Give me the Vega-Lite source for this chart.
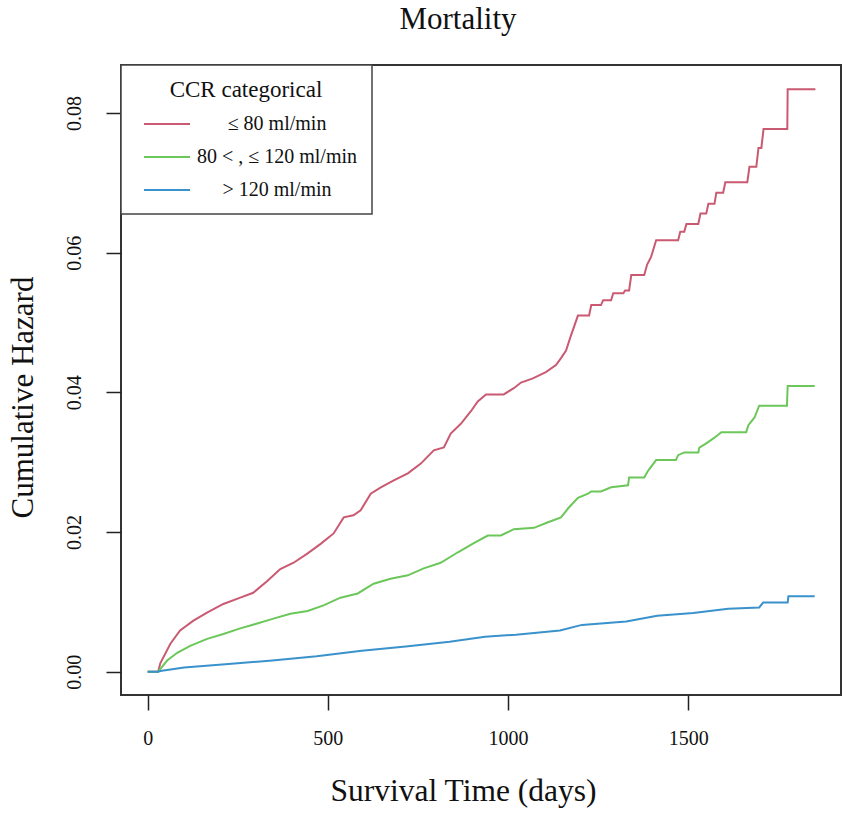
{
  "$schema": "https://vega.github.io/schema/vega-lite/v6.json",
  "width": 720,
  "height": 630,
  "autosize": {"type": "none"},
  "padding": {"left": 121, "top": 65, "right": 10, "bottom": 124},
  "background": "white",
  "title": {"text": "Mortality", "fontSize": 31, "font": "Liberation Serif", "fontWeight": "normal", "color": "#111", "anchor": "middle", "dx": -23, "offset": 4, "baseline": "alphabetic"},
  "config": {"view": {"stroke": "#333", "strokeWidth": 2}, "font": "Liberation Serif"},
  "data": {"values": [
    {"group": "≤ 80 ml/min", "day": 0, "hz": 0},
    {"group": "≤ 80 ml/min", "day": 29, "hz": 0},
    {"group": "≤ 80 ml/min", "day": 35, "hz": 0.0012},
    {"group": "≤ 80 ml/min", "day": 63, "hz": 0.0040},
    {"group": "≤ 80 ml/min", "day": 90, "hz": 0.0059},
    {"group": "≤ 80 ml/min", "day": 127, "hz": 0.0073},
    {"group": "≤ 80 ml/min", "day": 166, "hz": 0.0085},
    {"group": "≤ 80 ml/min", "day": 210, "hz": 0.0097},
    {"group": "≤ 80 ml/min", "day": 257, "hz": 0.0106},
    {"group": "≤ 80 ml/min", "day": 293, "hz": 0.0113},
    {"group": "≤ 80 ml/min", "day": 332, "hz": 0.0130},
    {"group": "≤ 80 ml/min", "day": 368, "hz": 0.0147},
    {"group": "≤ 80 ml/min", "day": 405, "hz": 0.0156},
    {"group": "≤ 80 ml/min", "day": 443, "hz": 0.0169},
    {"group": "≤ 80 ml/min", "day": 480, "hz": 0.0183},
    {"group": "≤ 80 ml/min", "day": 516, "hz": 0.0198},
    {"group": "≤ 80 ml/min", "day": 544, "hz": 0.0221},
    {"group": "≤ 80 ml/min", "day": 571, "hz": 0.0224},
    {"group": "≤ 80 ml/min", "day": 591, "hz": 0.0231},
    {"group": "≤ 80 ml/min", "day": 619, "hz": 0.0255},
    {"group": "≤ 80 ml/min", "day": 647, "hz": 0.0264},
    {"group": "≤ 80 ml/min", "day": 683, "hz": 0.0274},
    {"group": "≤ 80 ml/min", "day": 722, "hz": 0.0284},
    {"group": "≤ 80 ml/min", "day": 758, "hz": 0.0298},
    {"group": "≤ 80 ml/min", "day": 794, "hz": 0.0317},
    {"group": "≤ 80 ml/min", "day": 822, "hz": 0.0321},
    {"group": "≤ 80 ml/min", "day": 841, "hz": 0.0341},
    {"group": "≤ 80 ml/min", "day": 869, "hz": 0.0355},
    {"group": "≤ 80 ml/min", "day": 897, "hz": 0.0373},
    {"group": "≤ 80 ml/min", "day": 916, "hz": 0.0387},
    {"group": "≤ 80 ml/min", "day": 939, "hz": 0.0397},
    {"group": "≤ 80 ml/min", "day": 988, "hz": 0.0397},
    {"group": "≤ 80 ml/min", "day": 1016, "hz": 0.0406},
    {"group": "≤ 80 ml/min", "day": 1036, "hz": 0.0414},
    {"group": "≤ 80 ml/min", "day": 1069, "hz": 0.0420},
    {"group": "≤ 80 ml/min", "day": 1105, "hz": 0.0429},
    {"group": "≤ 80 ml/min", "day": 1133, "hz": 0.0439},
    {"group": "≤ 80 ml/min", "day": 1147, "hz": 0.0449},
    {"group": "≤ 80 ml/min", "day": 1161, "hz": 0.0460},
    {"group": "≤ 80 ml/min", "day": 1175, "hz": 0.0482},
    {"group": "≤ 80 ml/min", "day": 1194, "hz": 0.0510},
    {"group": "≤ 80 ml/min", "day": 1225, "hz": 0.0510},
    {"group": "≤ 80 ml/min", "day": 1231, "hz": 0.0525},
    {"group": "≤ 80 ml/min", "day": 1258, "hz": 0.0525},
    {"group": "≤ 80 ml/min", "day": 1264, "hz": 0.0532},
    {"group": "≤ 80 ml/min", "day": 1286, "hz": 0.0532},
    {"group": "≤ 80 ml/min", "day": 1292, "hz": 0.0542},
    {"group": "≤ 80 ml/min", "day": 1320, "hz": 0.0542},
    {"group": "≤ 80 ml/min", "day": 1325, "hz": 0.0546},
    {"group": "≤ 80 ml/min", "day": 1336, "hz": 0.0546},
    {"group": "≤ 80 ml/min", "day": 1342, "hz": 0.0568},
    {"group": "≤ 80 ml/min", "day": 1378, "hz": 0.0568},
    {"group": "≤ 80 ml/min", "day": 1386, "hz": 0.0583},
    {"group": "≤ 80 ml/min", "day": 1397, "hz": 0.0594},
    {"group": "≤ 80 ml/min", "day": 1411, "hz": 0.0618},
    {"group": "≤ 80 ml/min", "day": 1472, "hz": 0.0618},
    {"group": "≤ 80 ml/min", "day": 1478, "hz": 0.0630},
    {"group": "≤ 80 ml/min", "day": 1489, "hz": 0.0630},
    {"group": "≤ 80 ml/min", "day": 1495, "hz": 0.0641},
    {"group": "≤ 80 ml/min", "day": 1528, "hz": 0.0641},
    {"group": "≤ 80 ml/min", "day": 1534, "hz": 0.0656},
    {"group": "≤ 80 ml/min", "day": 1550, "hz": 0.0656},
    {"group": "≤ 80 ml/min", "day": 1556, "hz": 0.0670},
    {"group": "≤ 80 ml/min", "day": 1573, "hz": 0.0670},
    {"group": "≤ 80 ml/min", "day": 1578, "hz": 0.0686},
    {"group": "≤ 80 ml/min", "day": 1597, "hz": 0.0686},
    {"group": "≤ 80 ml/min", "day": 1603, "hz": 0.0701},
    {"group": "≤ 80 ml/min", "day": 1664, "hz": 0.0701},
    {"group": "≤ 80 ml/min", "day": 1670, "hz": 0.0723},
    {"group": "≤ 80 ml/min", "day": 1689, "hz": 0.0723},
    {"group": "≤ 80 ml/min", "day": 1695, "hz": 0.0750},
    {"group": "≤ 80 ml/min", "day": 1703, "hz": 0.0750},
    {"group": "≤ 80 ml/min", "day": 1709, "hz": 0.0777},
    {"group": "≤ 80 ml/min", "day": 1775, "hz": 0.0777},
    {"group": "≤ 80 ml/min", "day": 1776, "hz": 0.0834},
    {"group": "≤ 80 ml/min", "day": 1853, "hz": 0.0834},

    {"group": "80 < , ≤ 120 ml/min", "day": 0, "hz": 0},
    {"group": "80 < , ≤ 120 ml/min", "day": 29, "hz": 0},
    {"group": "80 < , ≤ 120 ml/min", "day": 54, "hz": 0.0016},
    {"group": "80 < , ≤ 120 ml/min", "day": 82, "hz": 0.0027},
    {"group": "80 < , ≤ 120 ml/min", "day": 118, "hz": 0.0037},
    {"group": "80 < , ≤ 120 ml/min", "day": 165, "hz": 0.0047},
    {"group": "80 < , ≤ 120 ml/min", "day": 210, "hz": 0.0054},
    {"group": "80 < , ≤ 120 ml/min", "day": 257, "hz": 0.0062},
    {"group": "80 < , ≤ 120 ml/min", "day": 304, "hz": 0.0069},
    {"group": "80 < , ≤ 120 ml/min", "day": 349, "hz": 0.0076},
    {"group": "80 < , ≤ 120 ml/min", "day": 396, "hz": 0.0083},
    {"group": "80 < , ≤ 120 ml/min", "day": 444, "hz": 0.0087},
    {"group": "80 < , ≤ 120 ml/min", "day": 488, "hz": 0.0095},
    {"group": "80 < , ≤ 120 ml/min", "day": 535, "hz": 0.0106},
    {"group": "80 < , ≤ 120 ml/min", "day": 583, "hz": 0.0112},
    {"group": "80 < , ≤ 120 ml/min", "day": 627, "hz": 0.0126},
    {"group": "80 < , ≤ 120 ml/min", "day": 674, "hz": 0.0133},
    {"group": "80 < , ≤ 120 ml/min", "day": 722, "hz": 0.0138},
    {"group": "80 < , ≤ 120 ml/min", "day": 766, "hz": 0.0148},
    {"group": "80 < , ≤ 120 ml/min", "day": 813, "hz": 0.0156},
    {"group": "80 < , ≤ 120 ml/min", "day": 861, "hz": 0.0171},
    {"group": "80 < , ≤ 120 ml/min", "day": 905, "hz": 0.0184},
    {"group": "80 < , ≤ 120 ml/min", "day": 944, "hz": 0.0195},
    {"group": "80 < , ≤ 120 ml/min", "day": 980, "hz": 0.0195},
    {"group": "80 < , ≤ 120 ml/min", "day": 1016, "hz": 0.0204},
    {"group": "80 < , ≤ 120 ml/min", "day": 1072, "hz": 0.0206},
    {"group": "80 < , ≤ 120 ml/min", "day": 1111, "hz": 0.0214},
    {"group": "80 < , ≤ 120 ml/min", "day": 1147, "hz": 0.0221},
    {"group": "80 < , ≤ 120 ml/min", "day": 1167, "hz": 0.0234},
    {"group": "80 < , ≤ 120 ml/min", "day": 1194, "hz": 0.0249},
    {"group": "80 < , ≤ 120 ml/min", "day": 1222, "hz": 0.0255},
    {"group": "80 < , ≤ 120 ml/min", "day": 1231, "hz": 0.0258},
    {"group": "80 < , ≤ 120 ml/min", "day": 1258, "hz": 0.0258},
    {"group": "80 < , ≤ 120 ml/min", "day": 1286, "hz": 0.0264},
    {"group": "80 < , ≤ 120 ml/min", "day": 1333, "hz": 0.0267},
    {"group": "80 < , ≤ 120 ml/min", "day": 1336, "hz": 0.0278},
    {"group": "80 < , ≤ 120 ml/min", "day": 1378, "hz": 0.0278},
    {"group": "80 < , ≤ 120 ml/min", "day": 1389, "hz": 0.0288},
    {"group": "80 < , ≤ 120 ml/min", "day": 1411, "hz": 0.0303},
    {"group": "80 < , ≤ 120 ml/min", "day": 1466, "hz": 0.0303},
    {"group": "80 < , ≤ 120 ml/min", "day": 1472, "hz": 0.0310},
    {"group": "80 < , ≤ 120 ml/min", "day": 1489, "hz": 0.0314},
    {"group": "80 < , ≤ 120 ml/min", "day": 1528, "hz": 0.0314},
    {"group": "80 < , ≤ 120 ml/min", "day": 1531, "hz": 0.0321},
    {"group": "80 < , ≤ 120 ml/min", "day": 1550, "hz": 0.0327},
    {"group": "80 < , ≤ 120 ml/min", "day": 1570, "hz": 0.0334},
    {"group": "80 < , ≤ 120 ml/min", "day": 1592, "hz": 0.0343},
    {"group": "80 < , ≤ 120 ml/min", "day": 1661, "hz": 0.0343},
    {"group": "80 < , ≤ 120 ml/min", "day": 1667, "hz": 0.0353},
    {"group": "80 < , ≤ 120 ml/min", "day": 1684, "hz": 0.0364},
    {"group": "80 < , ≤ 120 ml/min", "day": 1697, "hz": 0.0381},
    {"group": "80 < , ≤ 120 ml/min", "day": 1774, "hz": 0.0381},
    {"group": "80 < , ≤ 120 ml/min", "day": 1776, "hz": 0.0409},
    {"group": "80 < , ≤ 120 ml/min", "day": 1851, "hz": 0.0409},

    {"group": "> 120 ml/min", "day": 0, "hz": 0},
    {"group": "> 120 ml/min", "day": 29, "hz": 0},
    {"group": "> 120 ml/min", "day": 35, "hz": 0.0001},
    {"group": "> 120 ml/min", "day": 101, "hz": 0.0006},
    {"group": "> 120 ml/min", "day": 224, "hz": 0.0011},
    {"group": "> 120 ml/min", "day": 346, "hz": 0.0016},
    {"group": "> 120 ml/min", "day": 469, "hz": 0.0022},
    {"group": "> 120 ml/min", "day": 594, "hz": 0.0030},
    {"group": "> 120 ml/min", "day": 716, "hz": 0.0036},
    {"group": "> 120 ml/min", "day": 838, "hz": 0.0043},
    {"group": "> 120 ml/min", "day": 936, "hz": 0.0050},
    {"group": "> 120 ml/min", "day": 1022, "hz": 0.0053},
    {"group": "> 120 ml/min", "day": 1144, "hz": 0.0059},
    {"group": "> 120 ml/min", "day": 1205, "hz": 0.0067},
    {"group": "> 120 ml/min", "day": 1328, "hz": 0.0072},
    {"group": "> 120 ml/min", "day": 1414, "hz": 0.0080},
    {"group": "> 120 ml/min", "day": 1514, "hz": 0.0084},
    {"group": "> 120 ml/min", "day": 1611, "hz": 0.0090},
    {"group": "> 120 ml/min", "day": 1697, "hz": 0.0092},
    {"group": "> 120 ml/min", "day": 1708, "hz": 0.0099},
    {"group": "> 120 ml/min", "day": 1776, "hz": 0.0099},
    {"group": "> 120 ml/min", "day": 1778, "hz": 0.0108},
    {"group": "> 120 ml/min", "day": 1851, "hz": 0.0108}
  ]},
  "mark": {"type": "line", "strokeWidth": 2, "interpolate": "linear", "clip": true},
  "encoding": {
    "x": {
      "field": "day", "type": "quantitative",
      "scale": {"domain": [-74, 1924], "nice": false, "zero": false},
      "axis": {
        "values": [0, 500, 1000, 1500], "format": "d",
        "grid": false, "domain": false,
        "tickSize": 15, "tickWidth": 1.5, "tickColor": "#222",
        "labelFont": "Liberation Serif", "labelFontSize": 20, "labelColor": "#111", "labelPadding": 18,
        "title": "Survival Time (days)", "titleFont": "Liberation Serif", "titleFontSize": 31.5, "titleFontWeight": "normal", "titleColor": "#111",
        "titleX": 342, "titleY": 105, "titleAlign": "center", "titleBaseline": "alphabetic"
      }
    },
    "y": {
      "field": "hz", "type": "quantitative",
      "scale": {"domain": [-0.00334, 0.08688], "nice": false, "zero": false},
      "axis": {
        "values": [0, 0.02, 0.04, 0.06, 0.08], "format": ".2f",
        "grid": false, "domain": false,
        "tickSize": 15, "tickWidth": 1.5, "tickColor": "#222",
        "labelFont": "Liberation Serif", "labelFontSize": 20, "labelColor": "#111",
        "labelAngle": -90, "labelAlign": "center", "labelBaseline": "alphabetic", "labelPadding": 26,
        "title": "Cumulative Hazard", "titleFont": "Liberation Serif", "titleFontSize": 31, "titleFontWeight": "normal", "titleColor": "#111",
        "titleAngle": -90, "titleX": -89, "titleY": 332, "titleAlign": "center", "titleBaseline": "alphabetic"
      }
    },
    "color": {
      "field": "group", "type": "nominal",
      "scale": {"domain": ["≤ 80 ml/min", "80 < , ≤ 120 ml/min", "> 120 ml/min"], "range": ["#c95a72", "#6cc75a", "#3a92cc"]},
      "legend": {
        "orient": "none", "legendX": 0, "legendY": 0,
        "title": "CCR categorical", "titleFont": "Liberation Serif", "titleFontSize": 23, "titleFontWeight": "normal", "titleColor": "#111",
        "titleAnchor": "middle", "titlePadding": 12, "padding": 14,
        "labelFont": "Liberation Serif", "labelFontSize": 20, "labelColor": "#111", "labelLimit": 400,
        "labelAlign": "center",
        "symbolType": "M-2.556,0H2.556", "symbolSize": 324, "symbolStrokeWidth": 2, "symbolOffset": 22,
        "labelOffset": 100, "rowPadding": 13,
        "strokeColor": "#444", "fillColor": "white",
        "encode": {"legend": {"update": {"strokeWidth": {"value": 1.5}}}}
      }
    }
  }
}
